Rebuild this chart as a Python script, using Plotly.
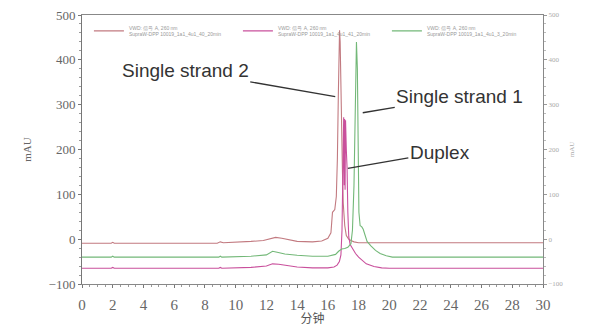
import plotly.graph_objects as go

# Retention time (min) and absorbance (mAU) for the three overlaid runs
ss2_time = [0, 1.9, 2.0, 2.1, 8.8, 9.0, 9.2, 10, 11, 11.8, 12.3, 12.6, 13.0, 13.5, 14, 15,
            15.6, 16.0, 16.2, 16.3, 16.38, 16.45, 16.55, 16.62, 16.68, 16.72, 16.76, 16.8,
            16.84, 16.9, 16.95, 17.0, 17.1, 17.2, 17.35, 17.5, 17.7, 18, 20, 30]
ss2_mau = [-9, -9, -7, -9, -9, -6, -8, -7, -5, -3, 2, 4, 2, -2, -5, -6,
           -4, 2, 14, 60, 64, 66, 95, 180, 320, 420, 466, 440,
           330, 220, 150, 80, 30, 8, 0, -3, -6, -8, -8, -8]

ss1_time = [0, 1.9, 2.0, 2.1, 8.9, 9.0, 9.1, 11, 12.0, 12.4, 12.7, 13.2, 14, 15, 16.0, 16.5,
            16.7, 16.9, 17.1, 17.3, 17.5, 17.6, 17.7, 17.78, 17.86, 17.92, 17.97, 18.02,
            18.1, 18.2, 18.3, 18.4, 18.55, 18.8, 19.1, 19.4, 19.8, 20.2, 21, 30]
ss1_mau = [-40, -40, -38, -40, -40, -38, -40, -38, -35, -27, -29, -33, -36, -38, -38, -34,
           -27, -22, -21, -18, -10, 20, 120, 300, 440, 380, 200, 60,
           30, 28, 22, 10, -5, -15, -25, -32, -37, -40, -40, -40]

dup_time = [0, 1.9, 2.0, 2.1, 8.9, 9.0, 9.1, 11, 12.0, 12.4, 12.8, 13.3, 14, 15, 16.0, 16.4,
            16.6, 16.75, 16.85, 16.92, 16.97, 17.0, 17.03, 17.06, 17.09, 17.12, 17.15,
            17.2, 17.25, 17.3, 17.36, 17.45, 17.6, 17.8, 18.0, 18.5, 19.0, 19.5, 20.0, 30]
dup_mau = [-65, -65, -63, -65, -65, -63, -65, -63, -60, -55, -56, -59, -62, -64, -64, -62,
           -58, -50, -35, 20, 150, 260, 272, 120, 268, 110, 265, 200, 158, 60, 5, -12,
           -22, -32, -40, -55, -61, -64, -65, -65]

legend_names = [
    "VWD: 信号 A, 260 nm<br>SupraW-DPP 10019_1a1_4u1_40_20min",
    "VWD: 信号 A, 260 nm<br>SupraW-DPP 10019_1a1_4u1_41_20min",
    "VWD: 信号 A, 260 nm<br>SupraW-DPP 10019_1a1_4u1_3_20min",
]
series = [
    (ss2_time, ss2_mau, "#c27a80"),
    (dup_time, dup_mau, "#c9509c"),
    (ss1_time, ss1_mau, "#73b878"),
]

fig = go.Figure()
for (t, v, c), name in zip(series, legend_names):
    fig.add_trace(go.Scatter(x=t, y=v, mode="lines", name=name,
                             line=dict(color=c, width=1.1)))
# invisible trace to carry the right-hand axis
fig.add_trace(go.Scatter(x=[0], y=[0], yaxis="y2", mode="lines", showlegend=False,
                         line=dict(width=0), hoverinfo="skip"))

serif = "Liberation Serif, Times New Roman, serif"
sans = "Liberation Sans, Arial, sans-serif"

fig.update_layout(
    width=589, height=326,
    margin=dict(l=82, r=46, t=15, b=42),
    paper_bgcolor="white", plot_bgcolor="white",
    showlegend=True,
    legend=dict(orientation="h", x=0.015, y=0.995, xanchor="left", yanchor="top",
                font=dict(size=5, color="#999999", family=sans),
                bgcolor="rgba(0,0,0,0)", itemwidth=30,
                entrywidth=104, entrywidthmode="pixels", tracegroupgap=0),
    xaxis=dict(range=[0, 30], dtick=2, ticks="outside", ticklen=3, tickcolor="#777",
               showline=True, linecolor="#888", mirror=True, showgrid=False, zeroline=False,
               automargin=False,
               tickfont=dict(family=serif, size=15, color="#666"), ticklabelstandoff=4,
               minor=dict(dtick=0.5, ticks="outside", ticklen=2, tickcolor="#999"),
               title=dict(text="分钟", font=dict(family="Noto Sans CJK SC", size=12, color="#555"),
                          standoff=2)),
    yaxis=dict(range=[-100, 500], dtick=100, ticks="outside", ticklen=3, tickcolor="#777",
               showline=True, linecolor="#777", showgrid=False, zeroline=False,
               automargin=False,
               tickfont=dict(family=serif, size=13, color="#666"),
               minor=dict(dtick=20, ticks="outside", ticklen=2, tickcolor="#999"),
               title=dict(text="mAU", font=dict(family=serif, size=11, color="#666"),
                          standoff=14)),
    yaxis2=dict(range=[-100, 500], dtick=100, overlaying="y", side="right",
                ticks="outside", ticklen=3, tickcolor="#999", showline=True, linecolor="#888",
                showgrid=False, zeroline=False, automargin=False,
                tickfont=dict(family=serif, size=7, color="#aaa"),
                minor=dict(dtick=20, ticks="outside", ticklen=2, tickcolor="#bbb"),
                title=dict(text="mAU", font=dict(family=serif, size=7, color="#aaa"),
                           standoff=6)),
)

ann_font = dict(family=sans, size=19, color="#333333")
fig.add_annotation(x=16.48, y=318, text="Single strand 2", showarrow=True, arrowhead=0,
                   arrowwidth=1.3, arrowcolor="#333", ax=-150, ay=-26, font=ann_font)
fig.add_annotation(x=18.27, y=282, text="Single strand 1", showarrow=True, arrowhead=0,
                   arrowwidth=1.3, arrowcolor="#333", ax=97, ay=-16, font=ann_font)
fig.add_annotation(x=17.3, y=158, text="Duplex", showarrow=True, arrowhead=0,
                   arrowwidth=1.3, arrowcolor="#333", ax=92, ay=-16, font=ann_font)

fig.write_html("out.html")
